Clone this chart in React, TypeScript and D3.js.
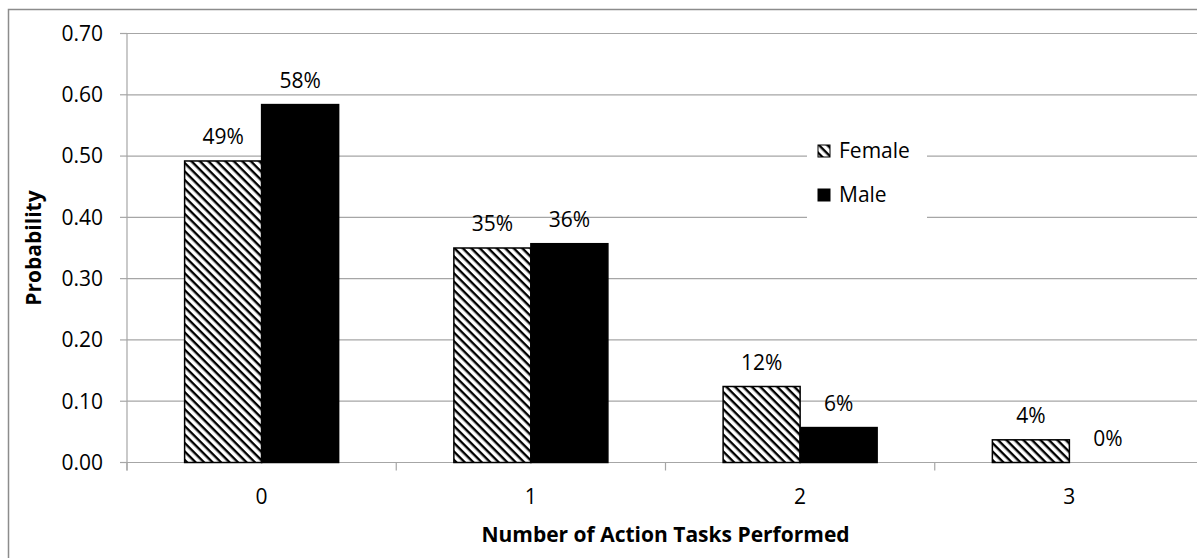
import React from "react";
import * as d3 from "d3";

const categories = ["0", "1", "2", "3"];
const seriesNames = ["Female", "Male"];
const femaleValues = [0.492, 0.35, 0.124, 0.037];
const maleValues = [0.584, 0.357, 0.057, 0.0];
const yTicks = [0, 0.1, 0.2, 0.3, 0.4, 0.5, 0.6, 0.7];

const W = 1197;
const H = 558;
const FONT = "'Open Sans', 'Noto Sans', sans-serif";
const FS = 21;

export default function App() {
  const left = 127;
  const right = 1204;
  const top = 33.5;
  const bottom = 462.5;

  const y = d3.scaleLinear().domain([0, 0.7]).range([bottom, top]);
  const x0 = d3
    .scaleBand<string>()
    .domain(categories)
    .range([left, right])
    .paddingInner(0.428)
    .paddingOuter(0.214);
  const x1 = d3
    .scaleBand<string>()
    .domain(seriesNames)
    .range([0, x0.bandwidth()]);
  const values: Record<string, number[]> = { Female: femaleValues, Male: maleValues };
  const step = x0.step();
  const boundaries = d3.range(categories.length + 1).map((i) => left + i * step);

  return (
    <svg
      width={W}
      height={H}
      style={{ position: "absolute", left: 0, top: 0, display: "block", background: "#fff" }}
    >
      <defs>
        <pattern
          id="hatch"
          patternUnits="userSpaceOnUse"
          width={6}
          height={6}
          patternTransform="rotate(45)"
        >
          <rect width={6} height={6} fill="#fff" />
          <rect x={0} y={0} width={6} height={2.4} fill="#000" />
        </pattern>
      </defs>
      <rect x={8.5} y={9.5} width={1200} height={570} fill="#fff" stroke="#8c8c8c" strokeWidth={1.5} />

      {/* gridlines */}
      {yTicks.slice(1).map((t) => (
        <line key={t} x1={left} x2={right} y1={y(t)} y2={y(t)} stroke="#a6a6a6" strokeWidth={1.2} />
      ))}

      {/* legend background */}
      <rect x={807} y={128} width={120} height={92} fill="#fff" />

      {/* y axis */}
      <line x1={left} x2={left} y1={top} y2={bottom + 8} stroke="#a6a6a6" strokeWidth={1.2} />
      {yTicks.map((t) => (
        <g key={t}>
          <line x1={left - 7} x2={left} y1={y(t)} y2={y(t)} stroke="#a6a6a6" strokeWidth={1.2} />
          <text
            x={103}
            y={y(t)}
            dy="0.35em"
            textAnchor="end"
            fontFamily={FONT}
            fontSize={FS}
            fill="#000"
          >
            {t.toFixed(2)}
          </text>
        </g>
      ))}

      {/* x axis */}
      <line x1={left} x2={right} y1={bottom} y2={bottom} stroke="#a6a6a6" strokeWidth={1.2} />
      {boundaries.map((b, i) => (
        <line key={i} x1={b} x2={b} y1={bottom} y2={bottom + 8} stroke="#a6a6a6" strokeWidth={1.2} />
      ))}
      {categories.map((c) => (
        <text
          key={c}
          x={(x0(c) as number) + x0.bandwidth() / 2}
          y={497}
          dy="0.35em"
          textAnchor="middle"
          fontFamily={FONT}
          fontSize={FS}
          fill="#000"
        >
          {c}
        </text>
      ))}

      {/* bars */}
      {categories.map((c, ci) => (
        <g key={c} transform={`translate(${x0(c)},0)`}>
          {seriesNames.map((s) => {
            const v = values[s][ci];
            const bx = x1(s) as number;
            const bw = x1.bandwidth();
            return (
              <g key={s}>
                {v > 0 && (
                  <rect
                    x={bx}
                    y={y(v)}
                    width={bw}
                    height={bottom - y(v)}
                    fill={s === "Female" ? "url(#hatch)" : "#000"}
                    stroke="#000"
                    strokeWidth={1.5}
                  />
                )}
                <text
                  x={bx + bw / 2}
                  y={y(v) - 17}
                  textAnchor="middle"
                  fontFamily={FONT}
                  fontSize={FS}
                  fill="#000"
                >
                  {Math.round(v * 100) + "%"}
                </text>
              </g>
            );
          })}
        </g>
      ))}

      {/* legend */}
      {seriesNames.map((s, i) => (
        <g key={s} transform={`translate(818, ${151 + i * 44})`}>
          <rect
            x={0}
            y={-6}
            width={12}
            height={12}
            fill={s === "Female" ? "url(#hatch)" : "#000"}
            stroke="#000"
            strokeWidth={1}
          />
          <text x={21} y={0} dy="0.35em" fontFamily={FONT} fontSize={FS} fill="#000">
            {s}
          </text>
        </g>
      ))}

      {/* axis titles */}
      <text
        x={(left + right) / 2}
        y={542}
        textAnchor="middle"
        fontFamily={FONT}
        fontSize={FS}
        fontWeight="bold"
        fill="#000"
      >
        Number of Action Tasks Performed
      </text>
      <text
        transform={`translate(41, 248) rotate(-90)`}
        textAnchor="middle"
        fontFamily={FONT}
        fontSize={FS}
        fontWeight="bold"
        fill="#000"
      >
        Probability
      </text>
    </svg>
  );
}
